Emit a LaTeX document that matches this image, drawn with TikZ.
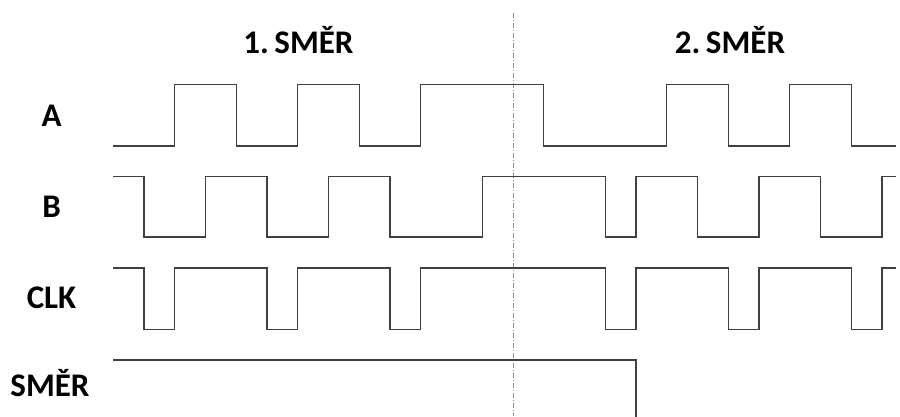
\documentclass[tikz,border=0pt]{standalone}
\usepackage{fontspec}
\setmainfont{Carlito}
\usepackage{tikz}
\tikzset{signal/.style={draw=black!75,line width=1.1pt},
  divider/.style={draw=black!45,line width=0.8pt,dash pattern=on 5pt off 2pt on 1pt off 2pt},
  lbl/.style={anchor=base,font=\fontsize{33}{38}\selectfont\bfseries,inner sep=0pt}}

\begin{document}
\begin{tikzpicture}[x=1pt,y=-1pt]
   \useasboundingbox (0,0) rectangle (900,416);
   % labels
   \node[lbl] (title1) at (298.5,53.3) {1.\,SMĚR};
   \node[lbl] (title2) at (730,53.3) {2.\,SMĚR};
   \node[lbl] (lblA) at (51.5,126) {A};
   \node[lbl] (lblB) at (51.5,217.7) {B};
   \node[lbl] (lblCLK) at (51.5,308.3) {CLK};
   \node[lbl] (lblSMER) at (50,396.7) {SMĚR};
   % waveforms, one unit = quarter period
   \begin{scope}[x=30.75pt,xshift=113.2pt]
   \draw[divider] (13,13) -- (13,416);
   \draw[signal] (0,146) -| (2,84.3) -| (4,146) -| (6,84.3) -| (8,146) -| (10,84.3) -| (14,146)
      -| (18,84.3) -| (20,146) -| (22,84.3) -| (24,146) -- (25.45,146);
   \draw[signal] (0,176.3) -| (1,237) -| (3,176.3) -| (5,237) -| (7,176.3) -| (9,237) -| (12,176.3)
      -| (16,237) -| (17,176.3) -| (19,237) -| (21,176.3) -| (23,237) -| (25,176.3) -- (25.45,176.3);
   \draw[signal] (0,268) -| (1,329.3) -| (2,268) -| (5,329.3) -| (6,268) -| (9,329.3) -| (10,268)
      -| (16,329.3) -| (17,268) -| (20,329.3) -| (21,268) -| (24,329.3) -| (25,268) -- (25.45,268);
   \draw[signal] (0,360) -| (17,417);
   \end{scope}
\end{tikzpicture}
\end{document}
